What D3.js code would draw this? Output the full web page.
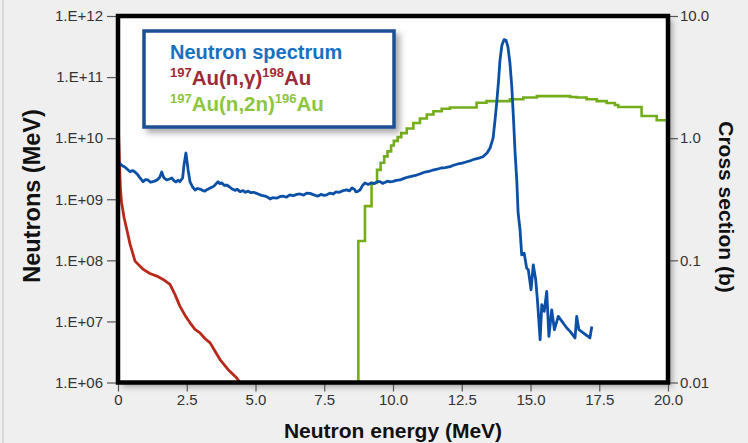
<!DOCTYPE html>
<html><head><meta charset="utf-8">
<script src="https://cdn.jsdelivr.net/npm/d3@7"></script>
<style>
html,body{margin:0;padding:0;background:#efefef;}
svg{display:block;font-family:"Liberation Sans",Arial,Helvetica,sans-serif;}
</style></head>
<body><svg id="chart" width="748" height="443"></svg>
<script>
// ---- data ----
const xTicks = [0, 2.5, 5, 7.5, 10, 12.5, 15, 17.5, 20];
const xTickLabels = ["0", "2.5", "5.0", "7.5", "10.0", "12.5", "15.0", "17.5", "20.0"];
const yLeftTicks = [1e6, 1e7, 1e8, 1e9, 1e10, 1e11, 1e12];
const yLeftTickLabels = ["1.E+06", "1.E+07", "1.E+08", "1.E+09", "1.E+10", "1.E+11", "1.E+12"];
const yRightTicks = [0.01, 0.1, 1, 10];
const yRightTickLabels = ["0.01", "0.1", "1.0", "10.0"];

// Neutron spectrum (left axis, neutrons/MeV)
const spectrumEnergy = [0.02,0.07,0.15,0.25,0.34,0.44,0.53,0.62,0.71,0.8,0.91,1.0,1.09,1.18,1.27,1.35,1.42,1.52,1.59,1.67,1.77,1.87,1.96,2.04,2.11,2.19,2.25,2.35,2.4,2.47,2.55,2.62,2.71,2.8,2.89,2.98,3.07,3.16,3.25,3.35,3.42,3.49,3.57,3.64,3.71,3.78,3.87,3.95,4.05,4.15,4.25,4.34,4.44,4.55,4.63,4.73,4.83,4.93,5.04,5.13,5.22,5.35,5.44,5.53,5.62,5.77,5.88,6.0,6.12,6.25,6.37,6.5,6.62,6.75,6.86,6.98,7.1,7.19,7.27,7.38,7.49,7.59,7.7,7.82,7.93,8.05,8.18,8.32,8.42,8.51,8.6,8.65,8.72,8.8,8.9,8.98,9.1,9.2,9.32,9.43,9.53,9.62,9.72,9.8,9.89,10.0,10.12,10.25,10.4,10.55,10.7,10.86,11.0,11.16,11.3,11.45,11.6,11.75,11.9,12.07,12.2,12.36,12.52,12.68,12.83,12.98,13.12,13.27,13.42,13.53,13.64,13.71,13.77,13.84,13.89,13.96,14.04,14.11,14.18,14.25,14.32,14.38,14.44,14.5,14.55,14.62,14.68,14.77,14.86,14.92,15.02,15.1,15.19,15.26,15.35,15.41,15.5,15.59,15.67,15.77,15.87,16.01,16.32,16.44,16.62,16.68,16.76,17.16,17.23];
const spectrumValues = [4.07e9,3.87e9,3.55e9,3.37e9,3.1e9,2.82e9,2.95e9,2.79e9,2.55e9,2.23e9,1.94e9,2.1e9,2.07e9,1.9e9,1.94e9,2.0e9,2.07e9,2.3e9,2.79e9,2.23e9,2.07e9,2.15e9,2.23e9,2.0e9,1.92e9,2.05e9,1.94e9,2.23e9,3.64e9,5.71e9,3.02e9,1.92e9,1.6e9,1.42e9,1.5e9,1.47e9,1.4e9,1.36e9,1.45e9,1.53e9,1.58e9,1.64e9,1.8e9,1.94e9,1.8e9,1.85e9,1.68e9,1.71e9,1.6e9,1.47e9,1.4e9,1.45e9,1.33e9,1.38e9,1.3e9,1.36e9,1.28e9,1.3e9,1.25e9,1.2e9,1.16e9,1.13e9,1.08e9,1.01e9,1.06e9,1.04e9,1.1e9,1.13e9,1.08e9,1.18e9,1.14e9,1.2e9,1.22e9,1.17e9,1.26e9,1.25e9,1.19e9,1.15e9,1.13e9,1.2e9,1.16e9,1.18e9,1.26e9,1.22e9,1.32e9,1.3e9,1.38e9,1.42e9,1.37e9,1.53e9,1.45e9,1.32e9,1.35e9,1.42e9,1.7e9,1.85e9,1.75e9,1.85e9,1.8e9,1.94e9,1.94e9,1.82e9,1.9e9,1.98e9,1.92e9,1.96e9,2.04e9,2.07e9,2.2e9,2.31e9,2.4e9,2.49e9,2.62e9,2.79e9,2.85e9,3.01e9,3.1e9,3.25e9,3.3e9,3.41e9,3.6e9,3.78e9,3.9e9,4.11e9,4.3e9,4.55e9,4.7e9,4.96e9,5.71e9,6.9e9,1.0e10,1.98e10,3.75e10,8.9e10,1.89e11,3.32e11,4.11e11,4.0e11,3.11e11,1.75e11,6.92e10,2.13e10,5.71e9,2.07e9,5.97e8,3.15e8,1.23e8,1.31e8,7.46e7,7.0e7,3.3e7,8.44e7,4.8e7,2.0e7,5.02e6,1.88e7,1.46e7,3.09e7,5.69e6,1.55e7,7.31e6,1.21e7,7.8e6,6.87e6,5.36e6,1.21e7,7.31e6,5.36e6,8.28e6];

// 197Au(n,gamma)198Au cross section (right axis, b)
const captureEnergy = [0.02,0.055,0.09,0.13,0.22,0.32,0.44,0.62,0.92,1.16,1.41,1.64,1.89,2.07,2.25,2.44,2.62,2.8,2.98,3.16,3.35,3.53,3.71,4.0,4.32,4.5];
const captureValues = [1.12,0.61,0.38,0.298,0.224,0.179,0.135,0.0985,0.0843,0.078,0.0743,0.0698,0.0636,0.0526,0.0422,0.0354,0.0308,0.0272,0.0255,0.0229,0.0211,0.018,0.0154,0.0128,0.0109,0.0095];

// 197Au(n,2n)196Au cross section (right axis, b), step data
const n2nEnergy = [8.74,8.74,8.98,9.22,9.42,9.55,9.68,9.8,9.93,10.03,10.17,10.3,10.5,10.74,10.98,11.23,11.47,11.77,12.07,13.04,13.4,14.25,14.74,15.23,16.44,16.68,17.04,17.41,17.77,18.07,18.19,19.04,19.59,20.0];
const n2nValues = [0.005,0.144,0.278,0.43,0.55,0.63,0.71,0.78,0.87,0.95,1.02,1.1,1.2,1.33,1.45,1.56,1.66,1.74,1.78,1.95,2.01,2.08,2.15,2.21,2.17,2.15,2.08,2.01,1.94,1.87,1.8,1.52,1.4,1.4];

// ---- layout ----
const W = 748, H = 443;
const L = 118, R = 668, T = 16, B = 382.5;
const svg = d3.select("#chart");
const defs = svg.append("defs");
const sh = defs.append("filter").attr("id","shadow").attr("x","-10%").attr("y","-10%").attr("width","130%").attr("height","130%");
sh.append("feDropShadow").attr("dx",4).attr("dy",4).attr("stdDeviation",3).attr("flood-color","#000").attr("flood-opacity",0.35);
defs.append("clipPath").attr("id","plotclip").append("rect").attr("x",L).attr("y",T).attr("width",R-L).attr("height",B-T);

svg.append("rect").attr("width",W).attr("height",H).attr("fill","#efefef");
svg.append("rect").attr("x",2).attr("y",0).attr("width",2).attr("height",H).attr("fill","#d9d9d9");

const x = d3.scaleLinear().domain([0,20]).range([L,R]);
const yL = d3.scaleLog().domain([1e6,1e12]).range([B,T]);
const yR = d3.scaleLog().domain([0.01,10]).range([B,T]);

svg.append("rect").attr("x",L).attr("y",T).attr("width",R-L).attr("height",B-T)
  .attr("fill","#fff").attr("filter","url(#shadow)");

function styleAxis(g){
  g.select(".domain").remove();
  g.selectAll(".tick line").attr("stroke","#555").attr("stroke-width",1.2);
  g.selectAll(".tick text").attr("fill","#333").attr("font-size",15)
   .attr("font-family","'Liberation Sans',Arial,sans-serif");
}
svg.append("g").attr("transform",`translate(${L},0)`)
  .call(d3.axisLeft(yL).tickValues(yLeftTicks).tickSize(11).tickPadding(4)
    .tickFormat((d,i)=>yLeftTickLabels[i]))
  .call(styleAxis);
svg.append("g").attr("transform",`translate(${R},0)`)
  .call(d3.axisRight(yR).tickValues(yRightTicks).tickSize(10).tickPadding(2)
    .tickFormat((d,i)=>yRightTickLabels[i]))
  .call(styleAxis);
svg.append("g").attr("transform",`translate(0,${B})`)
  .call(d3.axisBottom(x).tickValues(xTicks).tickSize(9).tickPadding(3)
    .tickFormat((d,i)=>xTickLabels[i]))
  .call(styleAxis);

const plot = svg.append("g").attr("clip-path","url(#plotclip)");
const lineL = d3.line().x(d=>x(d[0])).y(d=>yL(d[1]));
const lineR = d3.line().x(d=>x(d[0])).y(d=>yR(d[1]));
const lineStep = d3.line().x(d=>x(d[0])).y(d=>yR(d[1])).curve(d3.curveStepAfter);

plot.append("path").datum(d3.zip(captureEnergy,captureValues))
  .attr("d",lineR).attr("fill","none").attr("stroke","#b8281b").attr("stroke-width",2.8).attr("stroke-linejoin","round");
plot.append("path").datum(d3.zip(n2nEnergy,n2nValues))
  .attr("d",lineStep).attr("fill","none").attr("stroke","#74ad1c").attr("stroke-width",2.6);
plot.append("path").datum(d3.zip(spectrumEnergy,spectrumValues))
  .attr("d",lineL).attr("fill","none").attr("stroke","#0b4fa6").attr("stroke-width",2.8).attr("stroke-linejoin","round");

svg.append("rect").attr("x",L).attr("y",T).attr("width",R-L).attr("height",B-T)
  .attr("fill","none").attr("stroke","#000").attr("stroke-width",4.5);

// legend
const lg = svg.append("g");
lg.append("rect").attr("x",144).attr("y",31).attr("width",250).attr("height",96)
  .attr("fill","#fff").attr("stroke","#1f4f93").attr("stroke-width",3.5).attr("filter","url(#shadow)");
lg.append("text").attr("x",170).attr("y",59).attr("font-size",20).attr("font-weight","bold")
  .attr("fill","#1870c0").text("Neutron spectrum");
function isoLine(y, color, mid, sup2){
  const t = lg.append("text").attr("x",170).attr("y",y).attr("font-weight","bold").attr("fill",color).attr("font-size",20.5);
  t.append("tspan").attr("font-size",13).attr("dy",-8).text("197");
  t.append("tspan").attr("dy",8).text(mid);
  t.append("tspan").attr("font-size",13).attr("dy",-8).text(sup2);
  t.append("tspan").attr("dy",8).text("Au");
}
isoLine(85, "#9e2a35", "Au(n,\u03b3)", "198");
isoLine(111, "#8cc63f", "Au(n,2n)", "196");

svg.append("text").attr("x",(L+R)/2).attr("y",438).attr("text-anchor","middle")
  .attr("font-size",21).attr("font-weight","bold").attr("fill","#111").text("Neutron energy (MeV)");
svg.append("text").attr("transform","translate(40,196) rotate(-90)").attr("text-anchor","middle")
  .attr("font-size",23.5).attr("font-weight","bold").attr("fill","#111").text("Neutrons (MeV)");
svg.append("text").attr("transform","translate(719,207) rotate(90)").attr("text-anchor","middle")
  .attr("font-size",21).attr("font-weight","bold").attr("fill","#111").text("Cross section (b)");
</script></body></html>
